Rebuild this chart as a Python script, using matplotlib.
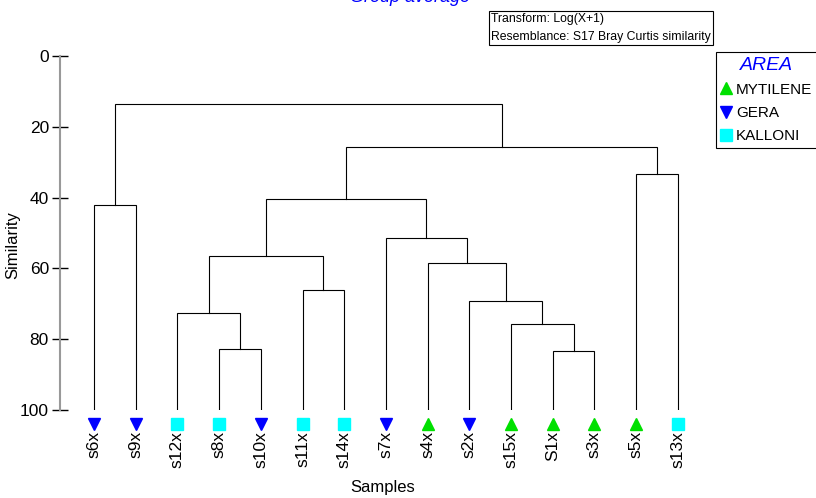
import matplotlib
matplotlib.use("Agg")
import matplotlib.pyplot as plt
from matplotlib.lines import Line2D

plt.rcParams['font.family'] = ['Liberation Sans', 'DejaVu Sans']

# leaves in display order
samples = ["s6x", "s9x", "s12x", "s8x", "s10x", "s11x", "s14x", "s7x",
           "s4x", "s2x", "s15x", "S1x", "s3x", "s5x", "s13x"]
areas = ["GERA", "GERA", "KALLONI", "KALLONI", "GERA", "KALLONI", "KALLONI", "GERA",
         "MYTILENE", "GERA", "MYTILENE", "MYTILENE", "MYTILENE", "MYTILENE", "KALLONI"]

# merges (child a, child b, similarity); new nodes numbered from len(samples)
merge_a = [0, 3, 2, 5, 17, 11, 10, 9, 8, 7, 19, 13, 25, 15]
merge_b = [1, 4, 16, 6, 18, 12, 20, 21, 22, 23, 24, 14, 26, 27]
merge_sim = [42.1, 82.8, 72.6, 66.1, 56.5, 83.3, 75.7, 69.2, 58.5, 51.4, 40.4, 33.3, 25.7, 13.6]

area_style = {"MYTILENE": ("^", "#00e000"), "GERA": ("v", "#0000ff"), "KALLONI": ("s", "#00ffff")}
legend_order = ["MYTILENE", "GERA", "KALLONI"]

fig = plt.figure(figsize=(8.16, 4.98), dpi=100)
W, H = 816, 498
# axes: x pixels 60..816, y pixels 56 (sim 0) .. 410 (sim 100)
ax = fig.add_axes([60 / W, 1 - 410 / H, (816 - 60) / W, (410 - 56) / H])
step = 41.7
ax.set_xlim((60 - 94) / step, (816 - 94) / step)
ax.set_ylim(100, 0)

n = len(samples)
xpos = list(range(n))
hgt = [100.0] * n
for a, b, s in zip(merge_a, merge_b, merge_sim):
    ax.plot([xpos[a], xpos[a], xpos[b], xpos[b]], [hgt[a], s, s, hgt[b]],
            color="black", lw=0.8, solid_joinstyle="miter")
    xpos.append((xpos[a] + xpos[b]) / 2)
    hgt.append(s)

for i, (lab, ar) in enumerate(zip(samples, areas)):
    m, c = area_style[ar]
    ax.plot(i, 104.0, marker=m, color=c, markersize=9, clip_on=False, ls="none")
    ax.text(i, 106.0, lab, rotation=90, ha="center", va="top", fontsize=12.5)

for sp in ["top", "right", "bottom"]:
    ax.spines[sp].set_visible(False)
ax.spines["left"].set_color("#999999")
ax.spines["left"].set_linewidth(1.5)
ax.set_xticks([])
ax.set_yticks([0, 20, 40, 60, 80, 100])
ax.tick_params(axis="y", direction="inout", length=12, width=1, color="black", labelsize=12.5, pad=2)
fig.text(13 / W, 1 - 245 / H, "Similarity", rotation=90, ha="center", va="center", fontsize=12)
fig.text(383 / W, 1 - 487 / H, "Samples", ha="center", va="center", fontsize=12)

fig.text(410 / W, 1 + 2 / H, "Group average", ha="center", va="center",
         fontsize=13, color="#0000ff", style="italic")
fig.text(491 / W, 1 - 28 / H, "Transform: Log(X+1)\nResemblance: S17 Bray Curtis similarity",
         ha="left", va="center", fontsize=8.8, linespacing=1.65,
         family=["Liberation Sans Narrow", "Liberation Sans"],
         bbox=dict(boxstyle="square,pad=0.15", fc="white", ec="black", lw=0.8))

handles = [Line2D([], [], marker=area_style[a][0], color=area_style[a][1], ls="none", markersize=9)
           for a in legend_order]
leg = fig.legend(handles, legend_order, loc="upper left", bbox_to_anchor=(716 / W, 1 - 52 / H),
                 title="AREA", fontsize=11, fancybox=False, edgecolor="black",
                 handlelength=0.7, handletextpad=0.3, borderpad=0.3, labelspacing=0.6,
                 borderaxespad=0, framealpha=1)
leg.get_title().set_color("#0000ff")
leg.get_title().set_style("italic")
leg.get_title().set_fontsize(14)
leg.get_frame().set_linewidth(0.8)

fig.savefig("out.png", dpi=100)
